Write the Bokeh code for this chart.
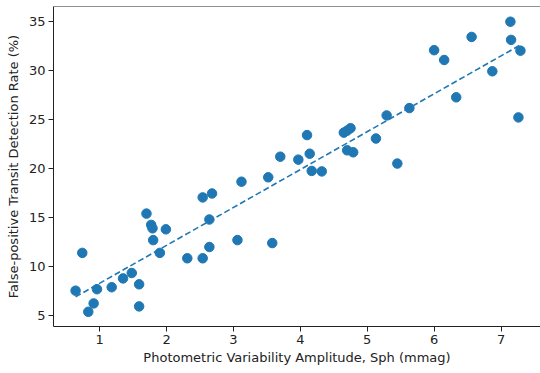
import numpy as np
from bokeh.plotting import figure
from bokeh.models import FixedTicker, ColumnDataSource, Span
from bokeh.embed import file_html
from bokeh.resources import INLINE

sph = [0.64, 0.74, 0.83, 0.91, 0.96, 1.18, 1.35, 1.48, 1.59, 1.59,
       1.70, 1.77, 1.79, 1.80, 1.90, 1.99, 2.31, 2.54, 2.54, 2.68,
       2.64, 2.64, 3.06, 3.12, 3.58, 3.52, 3.70, 3.97, 4.14, 4.10,
       4.17, 4.32, 4.65, 4.70, 4.75, 4.70, 4.79, 5.13, 5.29, 5.45,
       5.63, 6.00, 6.15, 6.33, 6.56, 6.87, 7.14, 7.15, 7.29, 7.26]
rate = [7.55, 11.4, 5.4, 6.25, 7.7, 7.9, 8.8, 9.35, 8.2, 5.95,
        15.4, 14.25, 13.9, 12.7, 11.4, 13.8, 10.85, 10.85, 17.05, 17.45,
        14.8, 12.0, 12.7, 18.65, 12.4, 19.1, 21.2, 20.9, 21.5, 23.4,
        19.75, 19.7, 23.65, 23.85, 24.1, 21.85, 21.65, 23.05, 25.4, 20.5,
        26.15, 32.05, 31.05, 27.25, 33.4, 29.9, 34.95, 33.1, 32.0, 25.2]
x_ticks = [1, 2, 3, 4, 5, 6, 7]
y_ticks = [5, 10, 15, 20, 25, 30, 35]

slope, intercept = np.polyfit(sph, rate, 1)
fx = [min(sph), max(sph)]
fy = [slope * v + intercept for v in fx]

y_top = 36.5
p = figure(width=540, height=373, output_backend="svg", toolbar_location=None,
           x_range=(0.31, 7.59), y_range=(3.9, y_top),
           min_border_left=53, min_border_right=0, min_border_top=6, min_border_bottom=47)
p.background_fill_color = "white"
p.border_fill_color = "white"
p.outline_line_color = None
p.xgrid.visible = False
p.ygrid.visible = False
p.add_layout(Span(location=y_top, dimension="width", line_color="#222222", line_width=1))

src = ColumnDataSource(dict(x=sph, y=rate))
p.scatter("x", "y", source=src, size=9.5, fill_color="#1f77b4", line_color="#1f77b4")
p.line(fx, fy, line_color="#1f77b4", line_width=1.6, line_dash="6 3")

for ax in (p.xaxis[0], p.yaxis[0]):
    ax.major_tick_out = 5
    ax.major_tick_in = 0
    ax.minor_tick_out = 0
    ax.minor_tick_in = 0
    ax.axis_line_color = "#222222"
    ax.major_tick_line_color = "#222222"
    ax.major_label_text_font = "DejaVu Sans"
    ax.major_label_text_font_size = "13px"
    ax.major_label_text_color = "#222222"
    ax.axis_label_text_font = "DejaVu Sans"
    ax.axis_label_text_font_size = "13px"
    ax.axis_label_text_font_style = "normal"
    ax.axis_label_text_color = "#222222"
    ax.major_label_standoff = 3

p.xaxis[0].ticker = FixedTicker(ticks=x_ticks)
p.yaxis[0].ticker = FixedTicker(ticks=y_ticks)
p.xaxis[0].axis_label = "Photometric Variability Amplitude, Sph (mmag)"
p.yaxis[0].axis_label = "False-positive Transit Detection Rate (%)"
p.xaxis[0].axis_label_standoff = 3
p.yaxis[0].axis_label_standoff = 5

open("out.html", "w").write(file_html(p, INLINE))
